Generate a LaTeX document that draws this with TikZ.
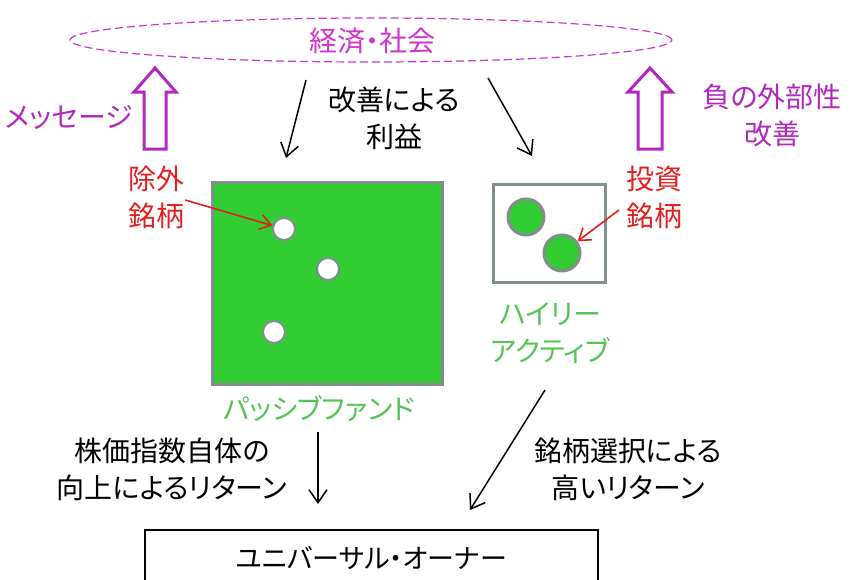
\documentclass[tikz,border=0pt]{standalone}
\usepackage{fontspec}
\setmainfont{Noto Sans CJK JP}[RawFeature=+palt]
\usetikzlibrary{arrows.meta,shapes.geometric}
\definecolor{mag}{RGB}{206,52,206}
\definecolor{purp}{RGB}{178,40,190}
\definecolor{redt}{RGB}{228,30,30}
\definecolor{gfill}{RGB}{50,205,50}
\definecolor{gtext}{RGB}{84,196,84}
\definecolor{gborder}{RGB}{128,142,142}
\tikzset{
  txt/.style={font=\fontsize{28}{37}\selectfont, align=center, inner sep=0pt},
  blackarrow/.style={line width=1.5pt, -{Straight Barb[length=13pt,width=18pt,line width=1.5pt]}},
  redarrow/.style={draw=redt, line width=1.6pt, -{Straight Barb[length=11pt,width=15pt,line width=1.6pt]}},
  hollow/.style={draw=purp, line width=3pt, fill=white, line join=miter},
  whitedot/.style={circle, draw=gborder, fill=white, line width=2pt, minimum size=22pt, inner sep=0pt},
  greendot/.style={circle, draw=gborder, fill=gfill, line width=3pt, minimum size=36pt, inner sep=0pt},
}
\begin{document}
\begin{tikzpicture}[x=1pt,y=-1pt]
\useasboundingbox (0,0) rectangle (850,579);
\clip (0,0) rectangle (850,579);

% economy & society
\node[ellipse, draw=mag, dashed, dash pattern=on 8pt off 4pt, line width=1.2pt, minimum width=602pt, minimum height=44pt, inner sep=0pt] (econ) at (371,40) {};
\node[txt, text=mag] (econt) at (372,41) {経済・社会};

% hollow arrows
\coordinate (la) at (155,68);
\draw[hollow] (la) -- ++(21,24) -- ++(-10,0) -- ++(0,57) -- ++(-22,0) -- ++(0,-57) -- ++(-10,0) -- cycle;
\coordinate (ra) at (650,68);
\draw[hollow] (ra) -- ++(22,24) -- ++(-10,0) -- ++(0,57) -- ++(-24,0) -- ++(0,-57) -- ++(-10,0) -- cycle;
\node[txt, text=purp] (msg) at (69,117) {メッセージ};
\node[txt, text=purp] (ext) at (772,115) {負の外部性\\改善};

% benefit
\node[txt] (benefit) at (394,118) {改善による\\利益};
\coordinate (b1s) at (306,80);
\coordinate (b1e) at (286,158);
\coordinate (b2s) at (488,78);
\coordinate (b2e) at (532,156);
\draw[blackarrow] (b1s) -- (b1e);
\draw[blackarrow] (b2s) -- (b2e);

% passive fund box
\node[rectangle, draw=gborder, fill=gfill, line width=3pt, minimum width=230pt, minimum height=202pt, inner sep=0pt] (passive) at (327.5,283.5) {};
\node[whitedot] (w1) at (284,229) {};
\node[whitedot] (w2) at (328,269) {};
\node[whitedot] (w3) at (274,332) {};
\node[txt, text=gtext] (passivet) at (319,409) {パッシブファンド};

% excluded
\node[txt, text=redt] (excl) at (156,197) {除外\\銘柄};
\draw[redarrow] (excl.east) ++(1,3) -- (w1);

% highly active box
\node[rectangle, draw=gborder, fill=white, line width=3pt, minimum width=112pt, minimum height=98pt, inner sep=0pt] (active) at (549,233) {};
\node[greendot] (g1) at (526,217) {};
\node[greendot] (g2) at (562,253) {};
\node[txt, text=gtext] (activet) at (550,333) {ハイリー\\アクティブ};

% invested
\node[txt, text=redt] (inv) at (654,197) {投資\\銘柄};
\coordinate (invs) at (619,210);
\draw[redarrow] (invs) -- (g2);

% returns
\node[txt] (ret1) at (172,469) {株価指数自体の\\向上によるリターン};
\node[txt] (ret2) at (628,469) {銘柄選択による\\高いリターン};
\coordinate (d1s) at (318,432);
\coordinate (d1e) at (318,504);
\coordinate (d2s) at (545,390);
\coordinate (d2e) at (470,510);
\draw[blackarrow] (d1s) -- (d1e);
\draw[blackarrow] (d2s) -- (d2e);

% universal owner
\node[rectangle, draw=black, line width=1.2pt, minimum width=453pt, minimum height=56pt, inner sep=0pt, font=\fontsize{27}{30}\selectfont] (owner) at (371.5,558) {ユニバーサル・オーナー};
\end{tikzpicture}
\end{document}
